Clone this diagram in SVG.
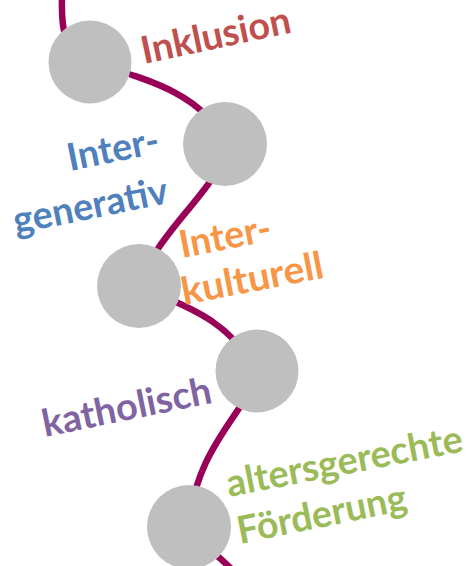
<svg xmlns="http://www.w3.org/2000/svg" width="471" height="566" viewBox="0 0 471 566">
<style>
.node{fill:#BFBFBF}
.lbl{font-family:Lato,"Open Sans","Liberation Sans",sans-serif;font-weight:bold;font-size:38px}
.wire{fill:none;stroke:#990057;stroke-width:6.5;stroke-linecap:butt}
</style>
<rect width="471" height="566" fill="#fff"/>
<g id="connectors">
<path class="wire" d="M 62,-2 C 61,30 65,55 90,62 C 150,80 205,95 225,144 C 225,185 160,225 139,286 C 180,305 225,315 257,371 C 250,410 195,445 189,527 C 200,545 220,555 240,578"/>
</g>
<g id="n1"><circle class="node" cx="90" cy="62" r="41.5"/>
<text class="lbl" fill="#C0504D" x="144" y="64" textLength="152" lengthAdjust="spacingAndGlyphs" transform="rotate(-12 144 64)">Inklusion</text></g>
<g id="n2"><circle class="node" cx="225" cy="144" r="42"/>
<text class="lbl" fill="#4F81BD" x="70" y="171" textLength="93" lengthAdjust="spacingAndGlyphs" transform="rotate(-11.5 70 171)">Inter-</text>
<text class="lbl" fill="#4F81BD" x="16" y="234" textLength="157" lengthAdjust="spacingAndGlyphs" transform="rotate(-11.5 16 234)">generativ</text></g>
<g id="n3"><circle class="node" cx="139" cy="286" r="42"/>
<text class="lbl" fill="#F79646" x="182" y="258" textLength="93" lengthAdjust="spacingAndGlyphs" transform="rotate(-11 182 258)">Inter-</text>
<text class="lbl" fill="#F79646" x="184" y="305" textLength="144" lengthAdjust="spacingAndGlyphs" transform="rotate(-11 184 305)">kulturell</text></g>
<g id="n4"><circle class="node" cx="257" cy="371" r="41.5"/>
<text class="lbl" fill="#8064A2" x="45" y="437" textLength="172" lengthAdjust="spacingAndGlyphs" transform="rotate(-11.5 45 437)">katholisch</text></g>
<g id="n5"><circle class="node" cx="189" cy="527" r="42"/>
<text class="lbl" fill="#9BBB59" x="229" y="497" textLength="240" lengthAdjust="spacingAndGlyphs" transform="rotate(-11 229 497)">altersgerechte</text>
<text class="lbl" fill="#9BBB59" x="240" y="544" textLength="172" lengthAdjust="spacingAndGlyphs" transform="rotate(-11.5 240 544)">Förderung</text></g>
</svg>
